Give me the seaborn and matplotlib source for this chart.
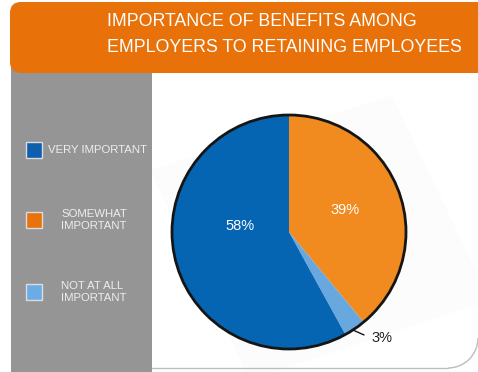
import matplotlib
matplotlib.use("Agg")
import matplotlib.pyplot as plt
import matplotlib.patches as mpatches
import seaborn as sns

# Survey shares (percent)
categories = ["VERY IMPORTANT", "SOMEWHAT\nIMPORTANT", "NOT AT ALL\nIMPORTANT"]
shares = [58, 39, 3]
value_labels = ["58%", "39%", "3%"]
title_lines = ["IMPORTANCE OF BENEFITS AMONG", "EMPLOYERS TO RETAINING EMPLOYEES"]

sns.set_theme(style="white")
plt.rcParams["font.family"] = ["Liberation Sans", "DejaVu Sans"]

pie_colors = ["#0565B2", "#F18A1F", "#68A8DE"]
key_colors = ["#0E5FAE", "#E8720C", "#6CACE6"]
header_orange = "#E8710A"
panel_gray = "#959595"

W, H = 478, 372
fig = plt.figure(figsize=(W / 100, H / 100), dpi=100)
fig.patch.set_facecolor("white")

# Background layer in pixel coordinates
bg = fig.add_axes([0, 0, 1, 1])
bg.set_xlim(0, W)
bg.set_ylim(H, 0)
bg.axis("off")

# faint tilted panel behind the pie
bg.add_patch(mpatches.Polygon([(150, 170), (392, 96), (490, 300), (250, 380)],
                              closed=True, facecolor="#FCFCFC", edgecolor="none", zorder=0))

# grey side panel
bg.add_patch(mpatches.Rectangle((11, 60), 141, 320, facecolor=panel_gray,
                                edgecolor="none", zorder=1))

# rounded bottom-right frame line
bg.plot([152, 448], [368, 368], color="#BDBDBD", lw=1.0, zorder=1)
bg.add_patch(mpatches.Arc((448, 338), 60, 60, theta1=0, theta2=90, color="#BDBDBD",
                          lw=1.0, zorder=1))

# orange header with rounded left corners
bg.add_patch(mpatches.FancyBboxPatch((10, 2), 520, 71,
                                     boxstyle="round,pad=0,rounding_size=11",
                                     facecolor=header_orange, edgecolor="none", zorder=2))
for y, line in zip([21, 47], title_lines):
    bg.text(107, y, line, color="white", fontsize=12.8, ha="left", va="center", zorder=3)

# legend keys
key_rows = [(150, 48), (220, 61), (292, 61)]
for (yc, tx), lab, col in zip(key_rows, categories, key_colors):
    bg.add_patch(mpatches.Rectangle((26, yc - 8), 16, 16, facecolor=col,
                                    edgecolor="#DCDCDC", lw=1.0, zorder=3))
    bg.text(tx, yc, lab, color="#EDEDED", fontsize=8.2, ha="left", va="center",
            linespacing=1.3, zorder=3)

# pie: orange and light blue run clockwise from twelve o'clock, blue fills the rest
order = [1, 2, 0]
cx, cy, r = 289, 232, 117
lim = 1.03
pax = fig.add_axes([(cx - r * lim) / W, (H - cy - r * lim) / H,
                    2 * r * lim / W, 2 * r * lim / H])
pax.pie([shares[i] for i in order], colors=[pie_colors[i] for i in order],
        startangle=90, counterclock=False, radius=1.0,
        wedgeprops=dict(linewidth=0))
pax.add_patch(mpatches.Circle((0, 0), 1.0, facecolor="none", edgecolor="#151515",
                              lw=2.0, zorder=5))
pax.set_xlim(-lim, lim)
pax.set_ylim(-lim, lim)
pax.set_aspect("equal")
pax.axis("off")

pax.text(-0.42, 0.05, value_labels[0], color="white", fontsize=10.5, ha="center", va="center")
pax.text(0.48, 0.19, value_labels[1], color="white", fontsize=10.5, ha="center", va="center")
pax.plot([0.547, 0.641], [-0.838, -0.880], color="#151515", lw=1.0)
pax.text(0.705, -0.91, value_labels[2], color="#222222", fontsize=10.5, ha="left", va="center")

fig.savefig("out.png", dpi=100, facecolor="white")
